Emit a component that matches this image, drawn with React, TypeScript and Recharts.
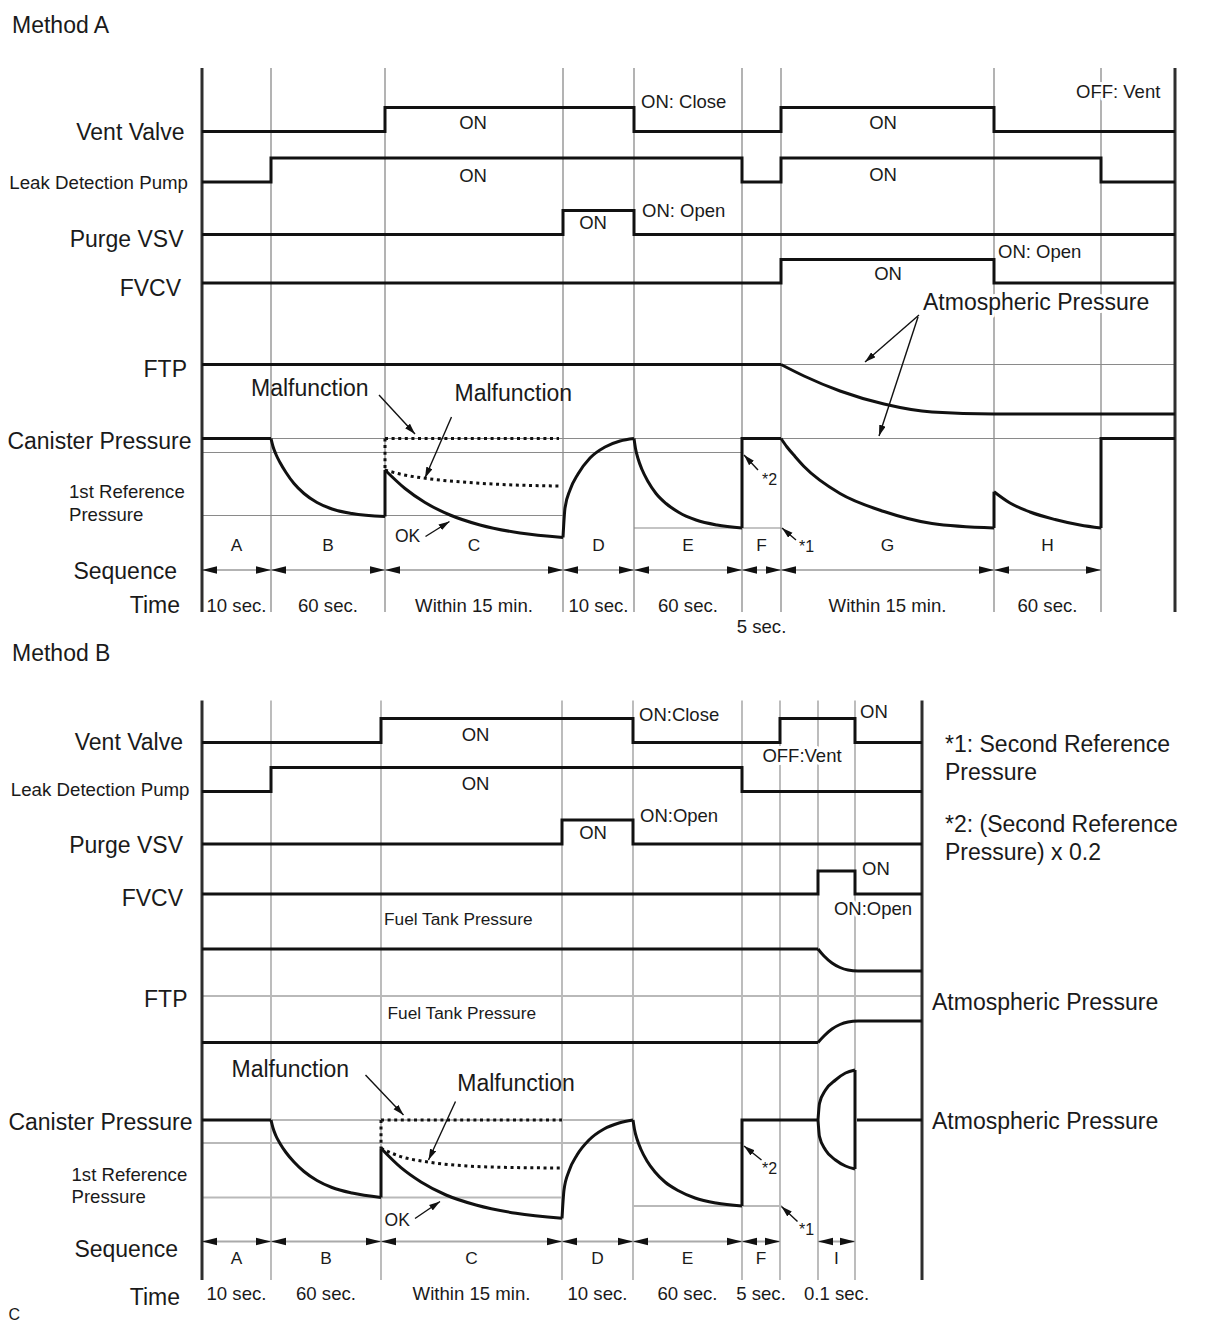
import React from 'react';
import { ComposedChart, Line, XAxis, YAxis } from 'recharts';

const FONT = '"Liberation Sans", Arial, Helvetica, sans-serif';
const INK = '#111111';
const TXT = '#1a1a1a';

type Pt = [number, number];

/* =================== Method A data =================== */
// diagram time positions of phase boundaries (frame start = 0)
const boundsA = [0, 69, 183, 361, 432, 540, 579, 792, 899, 973];
const seqFromA = [0, 69, 183, 361, 432, 540, 579, 792];
const seqToA = [69, 183, 361, 432, 540, 579, 792, 899];
const seqLettersA = ['A', 'B', 'C', 'D', 'E', 'F', 'G', 'H'];
const seqTimesA = ['10 sec.', '60 sec.', 'Within 15 min.', '10 sec.', '60 sec.', '5 sec.', 'Within 15 min.', '60 sec.'];
// ON(1)/OFF(0) per interval between boundaries
const ventA = [0, 0, 1, 1, 0, 0, 1, 0, 0];
const pumpA = [0, 1, 1, 1, 1, 0, 1, 1, 0];
const purgeA = [0, 0, 0, 1, 0, 0, 0, 0, 0];
const fvcvA = [0, 0, 0, 0, 0, 0, 1, 0, 0];
// FTP (relative to atmospheric pressure)
const ftpHoldA: Pt[] = [[0, 0], [579, 0]];
const ftpDropA: Pt[] = [[579, 0], [602, -11.5], [638, -26.5], [682, -39.5], [730, -47.5], [792, -49.5], [973, -49.5]];
const ftpAtmA: Pt[] = [[579, 0], [973, 0]];
// canister reference levels
const canRefLevelA = [0, -14, -77, -89.5];
const canRefFromA = [0, 0, 0, 432];
const canRefToA = [973, 540, 361, 579];
// canister pressure trace
const canA_A: Pt[] = [[0, 0], [69, 0]];
const canA_B: Pt[] = [[69, 0], [71, -8], [74, -16], [78, -24], [84, -34], [92, -45], [102, -55], [115, -64], [130, -70.5], [150, -75], [183, -78]];
const canA_Cjump: Pt[] = [[183, -78], [183, -31.5]];
const canA_C: Pt[] = [[183, -31.5], [203, -50], [223, -64], [248, -76.5], [278, -86.5], [318, -94.5], [361, -99]];
const canA_D: Pt[] = [[361, -99], [363, -69.5], [368, -51.5], [376, -35.5], [388, -19.5], [403, -8.5], [418, -2.5], [432, 0]];
const canA_E: Pt[] = [[432, 0], [433.5, -10], [436, -20], [440, -31], [446, -43], [454, -55], [464, -65], [477, -74], [494, -81.5], [515, -86.5], [540, -89.5]];
const canA_F: Pt[] = [[540, -89.5], [540, 0], [579, 0]];
const canA_G: Pt[] = [[579, 0], [585, -8.5], [593, -18], [602, -28], [638, -55], [682, -73], [730, -85], [792, -89.5]];
const canA_Hjump: Pt[] = [[792, -89.5], [792, -53.2]];
const canA_H: Pt[] = [[792, -53.2], [808, -64.5], [828, -73.5], [853, -81], [878, -86.5], [899, -89.5]];
const canA_End: Pt[] = [[899, -89.5], [899, 0], [973, 0]];
// malfunction (dotted) traces
const leakTopA: Pt[] = [[183, 0], [357, 0]];
const leakRiseA: Pt[] = [[183, 0], [183, -31.5]];
const leakCurveA: Pt[] = [[183, -31.5], [200, -36], [221, -39.5], [260, -43.5], [300, -46], [358, -47.5]];

/* =================== Method B data =================== */
const boundsB = [0, 69, 179, 360, 431, 540, 578, 616, 653, 720];
const seqFromB = [0, 69, 179, 360, 431, 540, 616];
const seqToB = [69, 179, 360, 431, 540, 578, 653];
const seqLettersB = ['A', 'B', 'C', 'D', 'E', 'F', 'I'];
const seqTimesB = ['10 sec.', '60 sec.', 'Within 15 min.', '10 sec.', '60 sec.', '5 sec.', '0.1 sec.'];
const ventB = [0, 0, 1, 1, 0, 0, 1, 1, 0];
const pumpB = [0, 1, 1, 1, 1, 0, 0, 0, 0];
const purgeB = [0, 0, 0, 1, 0, 0, 0, 0, 0];
const fvcvB = [0, 0, 0, 0, 0, 0, 0, 1, 0];
const ftpHighHoldB: Pt[] = [[0, 47], [616, 47]];
const ftpHighDropB: Pt[] = [[616, 47], [622, 40], [630, 33], [638, 28.5], [646, 26], [656, 25], [720, 25]];
const ftpLowHoldB: Pt[] = [[0, -46.5], [616, -46.5]];
const ftpLowRiseB: Pt[] = [[616, -46.5], [622, -40], [630, -33], [638, -28.5], [646, -26], [656, -25], [720, -25]];
const ftpAtmB: Pt[] = [[0, 0], [720, 0]];
const canRefLevelB = [0, -23, -77.5, -86];
const canRefFromB = [0, 0, 0, 431];
const canRefToB = [431, 540, 360, 580];
const canB_A: Pt[] = [[0, 0], [69, 0]];
const canB_B: Pt[] = [[69, 0], [71, -8], [74, -16], [78, -23.5], [84, -32.5], [92, -42], [102, -51.5], [115, -60.5], [130, -67.5], [150, -73], [179, -77.5]];
const canB_Cjump: Pt[] = [[179, -77.5], [179, -28.3]];
const canB_C: Pt[] = [[179, -28.3], [199, -47.7], [219, -62], [244, -75], [274, -85], [314, -93.3], [360, -98.3]];
const canB_D: Pt[] = [[360, -98.3], [362, -70], [367, -51], [375, -35], [387, -20], [402, -9], [417, -3], [431, 0]];
const canB_E: Pt[] = [[431, 0], [432.5, -9.5], [435, -19], [439, -29.5], [445, -41], [453, -52], [463, -62], [476, -70.5], [493, -78], [514, -83], [540, -86]];
const canB_F: Pt[] = [[540, -86], [540, 0], [616, 0]];
const canB_Iup: Pt[] = [[616, 0], [617.5, 16.7], [623.5, 30], [633.5, 40], [643.5, 47], [653, 50]];
const canB_Ilow: Pt[] = [[616, 0], [617.5, -16.7], [623.5, -30], [633.5, -40], [643.5, -46], [653, -49]];
const canB_Ijump: Pt[] = [[653, 50], [653, -49]];
const canB_End: Pt[] = [[655, 0], [720, 0]];
const leakTopB: Pt[] = [[179, 0], [360, 0]];
const leakRiseB: Pt[] = [[179, 0], [179, -28.3]];
const leakCurveB: Pt[] = [[179, -28.3], [197, -36], [226, -42], [265, -46], [310, -47.5], [360, -48]];

/* =================== layout =================== */
interface Layout {
  offsetTop: number; height: number; top: number; bottom: number;
  vent: [number, number]; pump: [number, number]; purge: [number, number]; fvcv: [number, number];
  ftp0: number; can0: number; seqY: number;
  letterDy: number; timeDy: number; lowIdx: number; lowDy: number;
  refStroke: string; refW: number; vStroke: string; seqStroke: string; seqW: number;
}
const layoutA: Layout = {
  offsetTop: 0, height: 640, top: 68, bottom: 612,
  vent: [107.5, 131.5], pump: [158, 182], purge: [210.5, 234.5], fvcv: [259.5, 283],
  ftp0: 364.5, can0: 438.5, seqY: 570,
  letterDy: -61.5, timeDy: 0, lowIdx: 5, lowDy: 21,
  refStroke: '#8a8a8a', refW: 1.2, vStroke: '#8a8a8a', seqStroke: '#9a9a9a', seqW: 1.6,
};
const layoutB: Layout = {
  offsetTop: 640, height: 688, top: 700.5, bottom: 1280,
  vent: [718.5, 742.5], pump: [767.5, 791.5], purge: [820, 844], fvcv: [871, 894],
  ftp0: 996, can0: 1120, seqY: 1241.5,
  letterDy: -16, timeDy: 19.5, lowIdx: -1, lowDy: 0,
  refStroke: '#b9b9b9', refW: 2, vStroke: '#999999', seqStroke: '#aaaaaa', seqW: 2,
};

// domain such that value vHi sits at page-y yHi and vLo at yLo
function rowDomain(vHi: number, yHi: number, vLo: number, yLo: number, top: number, bottom: number): [number, number] {
  const k = (yLo - yHi) / (vHi - vLo);
  const hi = vHi + (yHi - top) / k;
  const lo = hi - (bottom - top) / k;
  return [lo, hi];
}

const toPts = (arr: Pt[]) => arr.map(([t, v]) => ({ t, v }));
const stepPts = (bounds: number[], states: number[]) => {
  const pts = states.map((s, i) => ({ t: bounds[i], v: s }));
  pts.push({ t: bounds[bounds.length - 1], v: states[states.length - 1] });
  return pts;
};

const arrowDot = (p: any) => {
  const { cx, cy, index } = p;
  if (cx == null || cy == null) return <g key={`ad-${index}`} />;
  const L = 15, H = 3.8;
  const d = index === 0
    ? `M${cx},${cy} L${cx + L},${cy - H} L${cx + L},${cy + H} Z`
    : `M${cx},${cy} L${cx - L},${cy - H} L${cx - L},${cy + H} Z`;
  return <path key={`ad-${cx}-${index}`} d={d} fill={INK} stroke="none" />;
};

interface LOpts { stroke?: string; w?: number; type?: any; dash?: string; dot?: any }
function mkLine(key: string, data: { t: number; v: number }[], axis: string, o: LOpts = {}) {
  return (
    <Line
      key={key}
      data={data}
      dataKey="v"
      yAxisId={axis}
      type={o.type ?? 'linear'}
      stroke={o.stroke ?? INK}
      strokeWidth={o.w ?? 3}
      strokeDasharray={o.dash}
      dot={o.dot ?? false}
      activeDot={false}
      isAnimationActive={false}
      legendType="none"
      strokeLinejoin="miter"
    />
  );
}

interface Piece { pts: Pt[]; curve: 'linear' | 'monotone' }
interface MethodProps {
  L: Layout; bounds: number[];
  vent: number[]; pump: number[]; purge: number[]; fvcv: number[];
  ftpPieces: Piece[]; ftpRefs: Pt[][];
  canRefLevel: number[]; canRefFrom: number[]; canRefTo: number[];
  canPieces: Piece[]; leakPieces: Piece[];
  seqFrom: number[]; seqTo: number[]; letters: string[]; times: string[];
}

function MethodChart(p: MethodProps) {
  const L = p.L;
  const d = (y: [number, number]) => rowDomain(1, y[0], 0, y[1], L.top, L.bottom);
  const ftpDom = rowDomain(0, L.ftp0, -100, L.ftp0 + 100, L.top, L.bottom);
  const canDom = rowDomain(0, L.can0, -100, L.can0 + 100, L.top, L.bottom);
  const seqDom = rowDomain(1, L.seqY - 10, 0, L.seqY, L.top, L.bottom);
  const centers = p.seqFrom.map((f, i) => (f + p.seqTo[i]) / 2);
  const xMax = p.bounds[p.bounds.length - 1];

  const tick = (tp: any) => {
    const { x, y, index } = tp;
    return (
      <g key={`tk-${index}`}>
        <text x={x} y={y + L.letterDy} textAnchor="middle" fontSize={17.3} fontFamily={FONT} fill={TXT}>
          {p.letters[index]}
        </text>
        <text x={x} y={y + (index === L.lowIdx ? L.lowDy : L.timeDy)} textAnchor="middle" fontSize={18.6} fontFamily={FONT} fill={TXT}>
          {p.times[index]}
        </text>
      </g>
    );
  };

  const els: React.ReactNode[] = [];
  p.bounds.slice(1, -1).forEach((b, i) =>
    els.push(mkLine(`vb${i}`, [{ t: b, v: 0 }, { t: b, v: 1 }], 'frame', { stroke: L.vStroke, w: 1.3 })));
  p.canRefLevel.forEach((lv, i) =>
    els.push(mkLine(`cr${i}`, [{ t: p.canRefFrom[i], v: lv }, { t: p.canRefTo[i], v: lv }], 'can', { stroke: L.refStroke, w: L.refW })));
  p.ftpRefs.forEach((r, i) => els.push(mkLine(`fr${i}`, toPts(r), 'ftp', { stroke: L.refStroke, w: L.refW })));
  p.seqFrom.forEach((f, i) =>
    els.push(mkLine(`sq${i}`, [{ t: f, v: 0 }, { t: p.seqTo[i], v: 0 }], 'seq', { stroke: L.seqStroke, w: L.seqW, dot: arrowDot })));
  [0, xMax].forEach((b, i) =>
    els.push(mkLine(`fb${i}`, [{ t: b, v: 0 }, { t: b, v: 1 }], 'frame', { stroke: '#2e2e2e', w: 3 })));
  els.push(mkLine('sv', stepPts(p.bounds, p.vent), 'vent', { type: 'stepAfter' }));
  els.push(mkLine('sp', stepPts(p.bounds, p.pump), 'pump', { type: 'stepAfter' }));
  els.push(mkLine('su', stepPts(p.bounds, p.purge), 'purge', { type: 'stepAfter' }));
  els.push(mkLine('sf', stepPts(p.bounds, p.fvcv), 'fvcv', { type: 'stepAfter' }));
  p.ftpPieces.forEach((pc, i) => els.push(mkLine(`ft${i}`, toPts(pc.pts), 'ftp', { type: pc.curve })));
  p.canPieces.forEach((pc, i) => els.push(mkLine(`cp${i}`, toPts(pc.pts), 'can', { type: pc.curve })));
  p.leakPieces.forEach((pc, i) => els.push(mkLine(`lk${i}`, toPts(pc.pts), 'can', { type: pc.curve, dash: '3 3.6' })));

  return (
    <div style={{ position: 'absolute', left: 0, top: L.offsetTop }}>
      <ComposedChart
        width={1210}
        height={L.height}
        margin={{ top: L.top - L.offsetTop, right: 35, left: 202, bottom: L.height - (L.bottom - L.offsetTop) - 1 }}
      >
        <XAxis
          dataKey="t"
          type="number"
          domain={[0, 973]}
          ticks={centers}
          interval={0}
          tick={tick}
          tickLine={false}
          axisLine={false}
          height={1}
          tickSize={0}
          tickMargin={0}
        />
        <YAxis yAxisId="frame" hide type="number" domain={[0, 1]} />
        <YAxis yAxisId="vent" hide type="number" domain={d(L.vent)} />
        <YAxis yAxisId="pump" hide type="number" domain={d(L.pump)} />
        <YAxis yAxisId="purge" hide type="number" domain={d(L.purge)} />
        <YAxis yAxisId="fvcv" hide type="number" domain={d(L.fvcv)} />
        <YAxis yAxisId="ftp" hide type="number" domain={ftpDom} />
        <YAxis yAxisId="can" hide type="number" domain={canDom} />
        <YAxis yAxisId="seq" hide type="number" domain={seqDom} />
        {els}
      </ComposedChart>
    </div>
  );
}

/* =================== annotations (text + pointer arrows) =================== */
interface Lbl { t: string; x: number; y: number; s?: number; a?: 'start' | 'middle' | 'end'; halo?: boolean }
const labelsA: Lbl[] = [
  { t: 'Method A', x: 12, y: 33, s: 23 },
  { t: 'Vent Valve', x: 184.5, y: 139.5, a: 'end' },
  { t: 'Leak Detection Pump', x: 188, y: 189.3, s: 18.7, a: 'end' },
  { t: 'Purge VSV', x: 183.5, y: 246.5, a: 'end' },
  { t: 'FVCV', x: 181, y: 296, a: 'end' },
  { t: 'FTP', x: 187, y: 376.5, a: 'end' },
  { t: 'Canister Pressure', x: 191.5, y: 449, a: 'end' },
  { t: '1st Reference', x: 69, y: 498, s: 18.6 },
  { t: 'Pressure', x: 69, y: 520.5, s: 18.6 },
  { t: 'Sequence', x: 177, y: 579, a: 'end' },
  { t: 'Time', x: 180, y: 613, a: 'end' },
  { t: 'ON', x: 473, y: 128.5, s: 18.5, a: 'middle' },
  { t: 'ON', x: 883, y: 128.5, s: 18.5, a: 'middle' },
  { t: 'ON: Close', x: 641, y: 108.3, s: 18.5 },
  { t: 'OFF: Vent', x: 1076, y: 97.5, s: 18.5, halo: true },
  { t: 'ON', x: 473, y: 181.5, s: 18.5, a: 'middle' },
  { t: 'ON', x: 883, y: 180.5, s: 18.5, a: 'middle' },
  { t: 'ON', x: 593, y: 229, s: 18.5, a: 'middle' },
  { t: 'ON: Open', x: 642, y: 217, s: 18.5 },
  { t: 'ON', x: 888, y: 280, s: 18.5, a: 'middle' },
  { t: 'ON: Open', x: 998, y: 257.5, s: 18.5 },
  { t: 'Atmospheric Pressure', x: 923, y: 310, halo: true },
  { t: 'Malfunction', x: 251, y: 395.5 },
  { t: 'Malfunction', x: 454.5, y: 400.5 },
  { t: 'OK', x: 395, y: 541.5, s: 17.5 },
  { t: '*2', x: 762, y: 485, s: 16 },
  { t: '*1', x: 799, y: 551.5, s: 16 },
];
const labelsB: Lbl[] = [
  { t: 'Method B', x: 12, y: 660.5, s: 23 },
  { t: 'Vent Valve', x: 183, y: 749.5, a: 'end' },
  { t: 'Leak Detection Pump', x: 189.5, y: 796, s: 18.7, a: 'end' },
  { t: 'Purge VSV', x: 183, y: 853, a: 'end' },
  { t: 'FVCV', x: 183, y: 906, a: 'end' },
  { t: 'FTP', x: 187.5, y: 1006.5, a: 'end' },
  { t: 'Canister Pressure', x: 192.5, y: 1130, a: 'end' },
  { t: '1st Reference', x: 71.5, y: 1180.5, s: 18.6 },
  { t: 'Pressure', x: 71.5, y: 1202.5, s: 18.6 },
  { t: 'Sequence', x: 178, y: 1257, a: 'end' },
  { t: 'Time', x: 180, y: 1304.5, a: 'end' },
  { t: 'C', x: 8.5, y: 1319.5, s: 16 },
  { t: 'ON', x: 475.5, y: 741, s: 18.5, a: 'middle' },
  { t: 'ON', x: 475.5, y: 789.5, s: 18.5, a: 'middle' },
  { t: 'ON:Close', x: 639, y: 720.5, s: 18.5 },
  { t: 'ON', x: 860, y: 717.5, s: 18.5 },
  { t: 'OFF:Vent', x: 802, y: 762, s: 18.5, a: 'middle', halo: true },
  { t: 'ON', x: 593, y: 839, s: 18.5, a: 'middle' },
  { t: 'ON:Open', x: 640, y: 821.5, s: 18.5 },
  { t: 'ON', x: 862, y: 875, s: 18.5 },
  { t: 'ON:Open', x: 873, y: 915, s: 18.5, a: 'middle', halo: true },
  { t: 'Fuel Tank Pressure', x: 384, y: 924.5, s: 17.3 },
  { t: 'Fuel Tank Pressure', x: 387.5, y: 1019, s: 17.3 },
  { t: 'Malfunction', x: 231.5, y: 1076.5 },
  { t: 'Malfunction', x: 457.3, y: 1090.5 },
  { t: 'OK', x: 384.6, y: 1226, s: 17.5 },
  { t: '*2', x: 762, y: 1173.5, s: 16 },
  { t: '*1', x: 799, y: 1234.5, s: 16 },
  { t: '*1: Second Reference', x: 945, y: 752 },
  { t: 'Pressure', x: 945, y: 779.5 },
  { t: '*2: (Second Reference', x: 945, y: 832 },
  { t: 'Pressure) x 0.2', x: 945, y: 860 },
  { t: 'Atmospheric Pressure', x: 932, y: 1010 },
  { t: 'Atmospheric Pressure', x: 932, y: 1128.5 },
];
// pointer arrows: [x1, y1, x2(tip), y2(tip)]
const pointersA: number[][] = [
  [379, 395, 415, 434],
  [451.5, 417, 425, 478],
  [425.5, 536.5, 449.5, 521.5],
  [919, 315, 865, 362],
  [918, 317, 879, 436],
  [758, 470, 744, 455],
  [796, 540, 782, 528],
];
const pointersB: number[][] = [
  [365.5, 1075, 403.5, 1115],
  [455.5, 1101.5, 428.5, 1160],
  [415, 1218.5, 440, 1201.5],
  [761.5, 1160, 744, 1146],
  [797.5, 1221.5, 781.5, 1206.5],
];

function Overlay() {
  const all = [...labelsA, ...labelsB];
  const ptrs = [...pointersA, ...pointersB];
  return (
    <svg width={1210} height={1328} style={{ position: 'absolute', left: 0, top: 0, pointerEvents: 'none' }}>
      <defs>
        <marker id="ptrHead" viewBox="0 0 10 6" refX="10" refY="3" markerWidth="11" markerHeight="7" orient="auto" markerUnits="userSpaceOnUse">
          <path d="M0,0 L10,3 L0,6 Z" fill={INK} />
        </marker>
      </defs>
      {ptrs.map((a, i) => (
        <line key={`p${i}`} x1={a[0]} y1={a[1]} x2={a[2]} y2={a[3]} stroke={INK} strokeWidth={1.4} markerEnd="url(#ptrHead)" />
      ))}
      {all.map((o, i) => (
        <text
          key={`t${i}`}
          x={o.x}
          y={o.y}
          fontSize={o.s ?? 23}
          fontFamily={FONT}
          textAnchor={o.a ?? 'start'}
          fill={TXT}
          stroke={o.halo ? '#ffffff' : undefined}
          strokeWidth={o.halo ? 6 : undefined}
          strokeLinejoin="round"
          paintOrder="stroke"
        >
          {o.t}
        </text>
      ))}
    </svg>
  );
}

export default function App() {
  return (
    <div style={{ position: 'absolute', left: 0, top: 0, width: 1210, height: 1328, background: '#ffffff', overflow: 'hidden' }}>
      <MethodChart
        L={layoutA}
        bounds={boundsA}
        vent={ventA}
        pump={pumpA}
        purge={purgeA}
        fvcv={fvcvA}
        ftpPieces={[{ pts: ftpHoldA, curve: 'linear' }, { pts: ftpDropA, curve: 'monotone' }]}
        ftpRefs={[ftpAtmA]}
        canRefLevel={canRefLevelA}
        canRefFrom={canRefFromA}
        canRefTo={canRefToA}
        canPieces={[
          { pts: canA_A, curve: 'linear' },
          { pts: canA_B, curve: 'monotone' },
          { pts: canA_Cjump, curve: 'linear' },
          { pts: canA_C, curve: 'monotone' },
          { pts: canA_D, curve: 'monotone' },
          { pts: canA_E, curve: 'monotone' },
          { pts: canA_F, curve: 'linear' },
          { pts: canA_G, curve: 'monotone' },
          { pts: canA_Hjump, curve: 'linear' },
          { pts: canA_H, curve: 'monotone' },
          { pts: canA_End, curve: 'linear' },
        ]}
        leakPieces={[
          { pts: leakTopA, curve: 'linear' },
          { pts: leakRiseA, curve: 'linear' },
          { pts: leakCurveA, curve: 'monotone' },
        ]}
        seqFrom={seqFromA}
        seqTo={seqToA}
        letters={seqLettersA}
        times={seqTimesA}
      />
      <MethodChart
        L={layoutB}
        bounds={boundsB}
        vent={ventB}
        pump={pumpB}
        purge={purgeB}
        fvcv={fvcvB}
        ftpPieces={[
          { pts: ftpHighHoldB, curve: 'linear' },
          { pts: ftpHighDropB, curve: 'monotone' },
          { pts: ftpLowHoldB, curve: 'linear' },
          { pts: ftpLowRiseB, curve: 'monotone' },
        ]}
        ftpRefs={[ftpAtmB]}
        canRefLevel={canRefLevelB}
        canRefFrom={canRefFromB}
        canRefTo={canRefToB}
        canPieces={[
          { pts: canB_A, curve: 'linear' },
          { pts: canB_B, curve: 'monotone' },
          { pts: canB_Cjump, curve: 'linear' },
          { pts: canB_C, curve: 'monotone' },
          { pts: canB_D, curve: 'monotone' },
          { pts: canB_E, curve: 'monotone' },
          { pts: canB_F, curve: 'linear' },
          { pts: canB_Iup, curve: 'monotone' },
          { pts: canB_Ilow, curve: 'monotone' },
          { pts: canB_Ijump, curve: 'linear' },
          { pts: canB_End, curve: 'linear' },
        ]}
        leakPieces={[
          { pts: leakTopB, curve: 'linear' },
          { pts: leakRiseB, curve: 'linear' },
          { pts: leakCurveB, curve: 'monotone' },
        ]}
        seqFrom={seqFromB}
        seqTo={seqToB}
        letters={seqLettersB}
        times={seqTimesB}
      />
      <Overlay />
    </div>
  );
}
